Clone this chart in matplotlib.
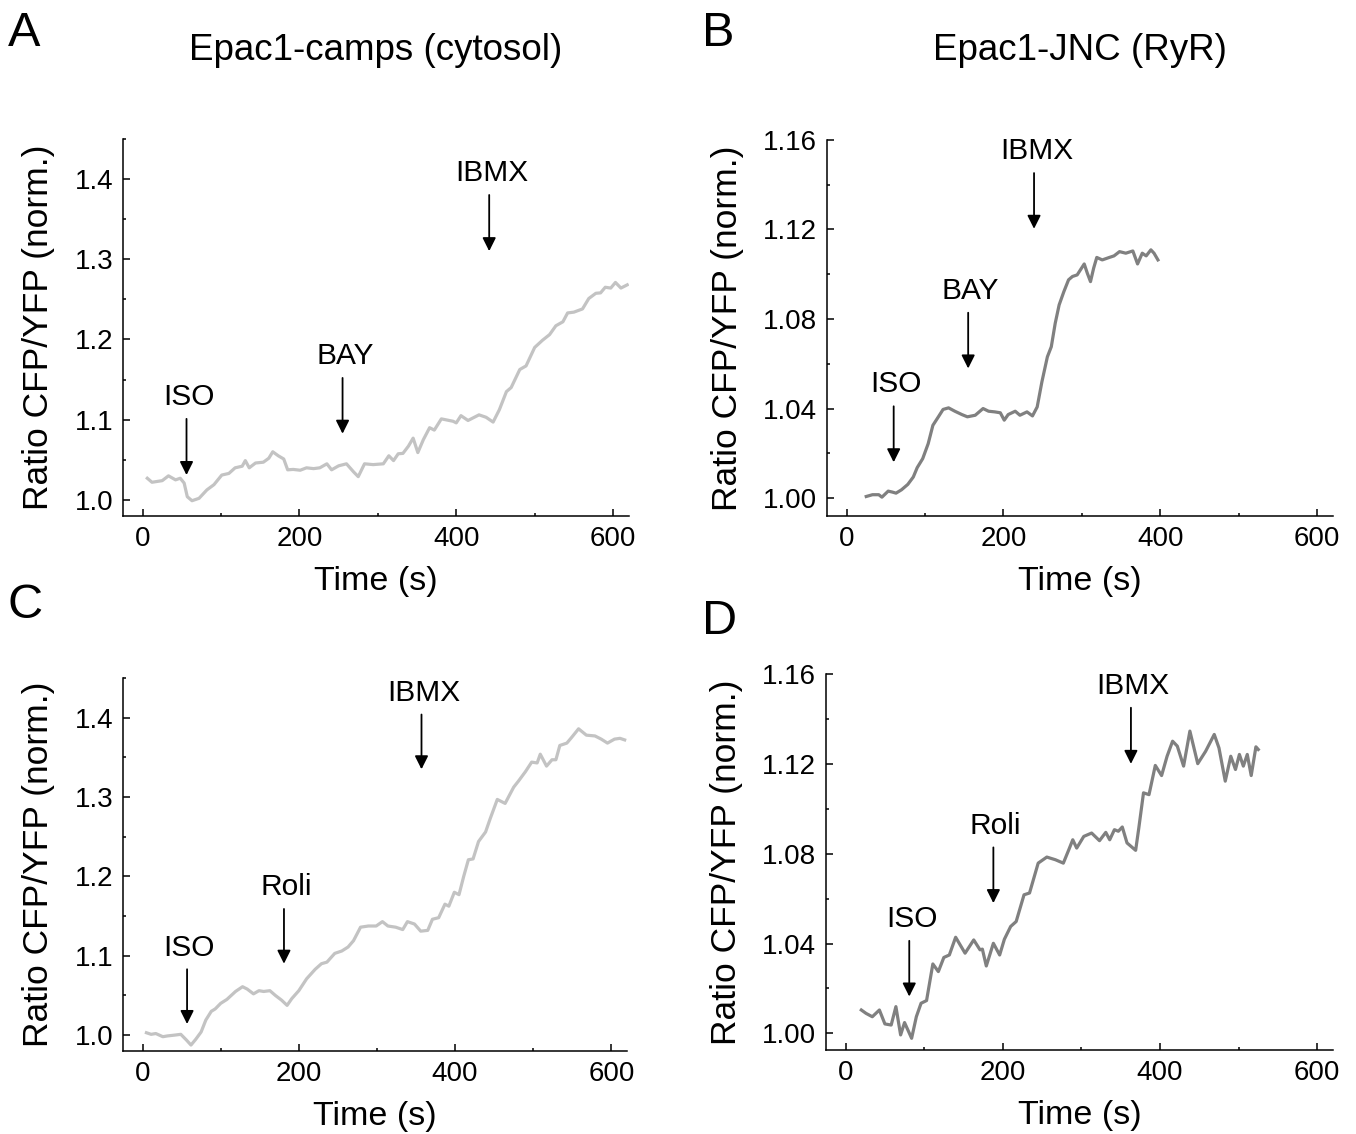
import matplotlib
matplotlib.use("Agg")
import matplotlib.pyplot as plt
from matplotlib.ticker import MultipleLocator

plt.rcParams["font.family"] = ["Liberation Sans", "DejaVu Sans"]

# ---- data ----
time_a = [6, 12, 25, 33, 42, 48, 53, 57, 63, 72, 82, 91, 101, 110, 118, 127, 131, 136,
          144, 154, 161, 166, 173, 180, 185, 192, 201, 209, 218, 226, 235, 241, 250, 260,
          269, 275, 283, 294, 307, 314, 320, 326, 332, 339, 345, 351, 358, 366, 372, 381,
          396, 400, 406, 415, 421, 429, 438, 447, 455, 464, 470, 481, 489, 500, 510, 519,
          527, 536, 542, 550, 561, 569, 578, 584, 590, 597, 603, 610, 618]
ratio_a = [1.027, 1.022, 1.024, 1.030, 1.025, 1.027, 1.021, 1.004, 0.999, 1.002, 1.0125,
           1.019, 1.031, 1.033, 1.040, 1.042, 1.049, 1.040, 1.046, 1.047, 1.052, 1.060,
           1.055, 1.051, 1.0375, 1.038, 1.037, 1.040, 1.039, 1.040, 1.045, 1.0375, 1.0425,
           1.045, 1.035, 1.029, 1.045, 1.044, 1.045, 1.055, 1.049, 1.0575, 1.058, 1.067,
           1.077, 1.059, 1.075, 1.090, 1.087, 1.101, 1.098, 1.096, 1.105, 1.099, 1.102,
           1.106, 1.103, 1.097, 1.1125, 1.135, 1.140, 1.1625, 1.167, 1.190, 1.199, 1.206,
           1.217, 1.222, 1.233, 1.234, 1.238, 1.251, 1.2575, 1.258, 1.265, 1.264, 1.271,
           1.264, 1.268]

time_b = [25, 33, 41, 45, 53, 58, 63, 70, 78, 85, 90, 97, 104, 110, 117, 123, 130, 138,
          147, 154, 164, 174, 181, 189, 196, 201, 206, 215, 221, 230, 237, 243, 249, 256,
          261, 266, 271, 277, 283, 288, 294, 303, 307, 311, 315, 319, 326, 335, 341, 348,
          356, 365, 371, 377, 382, 388, 392, 397]
ratio_b = [1.0007, 1.0015, 1.0015, 1.0004, 1.0031, 1.0027, 1.0022, 1.0037, 1.0061, 1.0094,
           1.0136, 1.0176, 1.0243, 1.0325, 1.0363, 1.0396, 1.0403, 1.0388, 1.0373, 1.0363,
           1.0370, 1.0400, 1.0388, 1.0385, 1.0381, 1.0348, 1.0373, 1.0388, 1.0370, 1.0385,
           1.0367, 1.0407, 1.0519, 1.0631, 1.0676, 1.0781, 1.0863, 1.0922, 1.0975, 1.0990,
           1.0997, 1.1046, 1.1004, 1.0967, 1.1027, 1.1075, 1.1064, 1.1075, 1.1082, 1.1101,
           1.1094, 1.1104, 1.1046, 1.1094, 1.1082, 1.1109, 1.1094, 1.1064]

time_c = [5, 11, 17, 26, 32, 41, 49, 56, 62, 68, 75, 81, 88, 93, 100, 108, 119, 128, 134,
          142, 149, 155, 163, 170, 178, 185, 191, 200, 210, 221, 229, 236, 246, 255, 263,
          270, 279, 289, 299, 307, 314, 324, 333, 339, 348, 356, 365, 371, 379, 387, 392,
          399, 405, 411, 417, 423, 430, 439, 445, 454, 464, 475, 481, 490, 498, 505, 509,
          517, 524, 529, 534, 543, 549, 558, 568, 579, 587, 595, 604, 611, 617]
ratio_c = [1.003, 1.001, 1.002, 0.998, 0.999, 1.000, 1.001, 0.994, 0.9875, 0.9946, 1.004,
           1.019, 1.030, 1.033, 1.040, 1.045, 1.055, 1.061, 1.058, 1.052, 1.056, 1.055,
           1.056, 1.050, 1.044, 1.0375, 1.046, 1.056, 1.071, 1.083, 1.090, 1.092, 1.103,
           1.106, 1.111, 1.119, 1.136, 1.1375, 1.1375, 1.143, 1.1375, 1.136, 1.133, 1.143,
           1.140, 1.131, 1.132, 1.146, 1.148, 1.165, 1.1625, 1.180, 1.177, 1.200, 1.221,
           1.222, 1.244, 1.256, 1.273, 1.297, 1.292, 1.3125, 1.320, 1.332, 1.344, 1.343,
           1.354, 1.339, 1.347, 1.347, 1.365, 1.368, 1.375, 1.386, 1.378, 1.377, 1.373,
           1.368, 1.373, 1.374, 1.372]

time_d = [20, 26, 34, 43, 50, 58, 64, 70, 75, 84, 90, 96, 103, 111, 118, 125, 132, 140,
          152, 163, 171, 174, 179, 188, 196, 202, 210, 217, 227, 234, 245, 256, 267, 277,
          284, 289, 294, 303, 313, 323, 331, 336, 342, 347, 352, 358, 369, 373, 379, 386,
          394, 402, 409, 416, 422, 430, 438, 448, 458, 469, 475, 483, 490, 496, 501, 506,
          511, 516, 522, 525]
ratio_d = [1.0104, 1.0089, 1.0074, 1.0104, 1.0042, 1.0037, 1.0119, 0.9993, 1.0048, 0.9978,
           1.0074, 1.0134, 1.0146, 1.0309, 1.0275, 1.0338, 1.0349, 1.0428, 1.0357, 1.0416,
           1.0372, 1.0375, 1.0300, 1.0401, 1.0349, 1.0419, 1.0476, 1.0498, 1.0617, 1.0625,
           1.0758, 1.0785, 1.0773, 1.0758, 1.0818, 1.0862, 1.0825, 1.0877, 1.0892, 1.0858,
           1.0895, 1.0862, 1.0907, 1.0900, 1.0919, 1.0848, 1.0815, 1.0914, 1.1071, 1.1063,
           1.1193, 1.1148, 1.1234, 1.1301, 1.1279, 1.1190, 1.1346, 1.1201, 1.1256, 1.1331,
           1.1271, 1.1123, 1.1234, 1.1175, 1.1242, 1.1190, 1.1242, 1.1148, 1.1276, 1.1264]

# drug additions: (label, time, arrow top, arrow tip)
events_a = [("ISO", 56, 1.101, 1.031), ("BAY", 255, 1.152, 1.0825), ("IBMX", 442, 1.380, 1.310)]
events_b = [("ISO", 60, 1.041, 1.016), ("BAY", 155, 1.0828, 1.0579), ("IBMX", 239, 1.1452, 1.1203)]
events_c = [("ISO", 57, 1.083, 1.014), ("Roli", 181, 1.159, 1.090), ("IBMX", 357, 1.404, 1.335)]
events_d = [("ISO", 81, 1.0412, 1.0164), ("Roli", 188, 1.0828, 1.058), ("IBMX", 363, 1.145, 1.120)]

light = "#c3c3c3"
dark = "#808080"

fig = plt.figure(figsize=(13.56, 11.34), dpi=100)


def panel(rect, t, r, events, color, ylim, ymajor, yfmt, letter, title=None, letter_xy=None):
    ax = fig.add_axes(rect)
    ax.plot(t, r, color=color, lw=2.3)
    ax.set_xlim(-25, 620)
    ax.set_ylim(*ylim)
    ax.xaxis.set_major_locator(MultipleLocator(200))
    ax.xaxis.set_minor_locator(MultipleLocator(100))
    ax.yaxis.set_major_locator(MultipleLocator(ymajor))
    ax.yaxis.set_minor_locator(MultipleLocator(ymajor / 2))
    ax.yaxis.set_major_formatter(plt.FormatStrFormatter(yfmt))
    for s in ("top", "right"):
        ax.spines[s].set_visible(False)
    for s in ("left", "bottom"):
        ax.spines[s].set_linewidth(1.1)
    ax.tick_params(which="both", direction="in", width=1.1, labelsize=20, pad=7)
    ax.tick_params(which="major", length=5)
    ax.tick_params(which="minor", length=2.5)
    ax.set_xlabel("Time (s)", fontsize=24.5, labelpad=10)
    ax.set_ylabel("Ratio CFP/YFP (norm.)", fontsize=25.5, labelpad=14)
    span = ylim[1] - ylim[0]
    for name, x, y0, y1 in events:
        ax.annotate("", xy=(x, y1), xytext=(x, y0),
                    arrowprops=dict(arrowstyle="-|>", color="black", lw=1.3,
                                    mutation_scale=20, shrinkA=0, shrinkB=0))
        ax.text(x + 3, y0 + span * 0.058, name, ha="center", va="center", fontsize=21.5)
    if title:
        fig.text(rect[0] + rect[2] / 2, 1 - 50 / 1134, title, ha="center", va="center", fontsize=26.5)
    fig.text(letter_xy[0], letter_xy[1], letter, ha="left", va="center", fontsize=35)
    return ax


panel([0.0907, 0.545, 0.373, 0.3326], time_a, ratio_a, events_a, light, (0.98, 1.45), 0.1, "%.1f",
      "A", "Epac1-camps (cytosol)", (8 / 1356, 1 - 33 / 1134))
panel([0.6099, 0.545, 0.373, 0.3316], time_b, ratio_b, events_b, dark, (0.992, 1.16), 0.04, "%.2f",
      "B", "Epac1-JNC (RyR)", (702 / 1356, 1 - 33 / 1134))
panel([0.0907, 0.0732, 0.3717, 0.3289], time_c, ratio_c, events_c, light, (0.98, 1.45), 0.1, "%.1f",
      "C", None, (8 / 1356, 1 - 605 / 1134))
panel([0.6091, 0.0741, 0.3739, 0.3315], time_d, ratio_d, events_d, dark, (0.9926, 1.16), 0.04, "%.2f",
      "D", None, (702 / 1356, 1 - 621 / 1134))

fig.savefig("out.png", dpi=100)
